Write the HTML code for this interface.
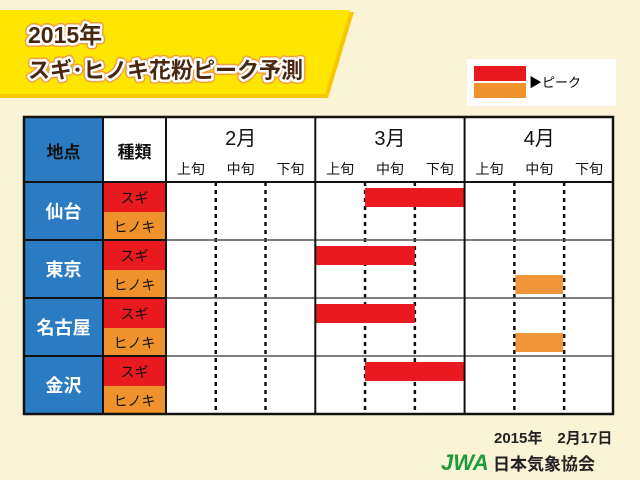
<!DOCTYPE html>
<html><head><meta charset="utf-8">
<style>
html,body{margin:0;padding:0;background:#fbf3d6;}
svg{display:block;font-family:"Liberation Sans","Noto Sans CJK JP",sans-serif;}
</style></head>
<body>
<svg id="chart" width="640" height="480" viewBox="0 0 640 480">
<rect width="640" height="480" fill="#fbf3d6"/>
<polygon points="0,12 354,12 328,98 0,98" fill="#f6c800"/>
<polygon points="0,10 350,10 325,94 0,94" fill="#ffe600"/>
<g font-weight="bold" fill="none" stroke="#f0a040" stroke-width="8" stroke-linejoin="round">
<text x="28" y="43" font-size="23">2015年</text>
<text x="28" y="78" font-size="22">スギ･ヒノキ花粉ピーク予測</text>
</g>
<g font-weight="bold" fill="#4a2810" stroke="#fff" stroke-width="5" paint-order="stroke" stroke-linejoin="round">
<text x="28" y="43" font-size="23">2015年</text>
<text x="28" y="78" font-size="22">スギ･ヒノキ花粉ピーク予測</text>
</g>
<g>
<rect x="467" y="59" width="149" height="47" fill="#fff"/>
<rect x="474" y="66" width="52" height="15" fill="#e8191f"/>
<rect x="474" y="83" width="52" height="15" fill="#f0922b"/>
<text x="529" y="87" font-size="13" fill="#000">▶ピーク</text>
</g>
<g id="table"></g>
<g font-weight="bold" fill="#222">
<text x="494" y="443" font-size="15">2015年　2月17日</text>
<text x="493" y="470" font-size="17">日本気象協会</text>
<text x="441" y="470" font-size="22" font-style="italic" fill="#1d9b3a" font-weight="bold">JWA</text>
</g>
</svg>
<script>
const cities=['仙台','東京','名古屋','金沢'];
const months=['2月','3月','4月'];
const dekads=['上旬','中旬','下旬'];
const sugiStart=[4,3,3,4];
const sugiEnd=[6,5,5,6];
const hinokiStart=[null,7,7,null];
const hinokiEnd=[null,8,8,null];

const NS='http://www.w3.org/2000/svg';
const g=document.getElementById('table');
function el(t,a,p){const e=document.createElementNS(NS,t);for(const k in a)e.setAttribute(k,a[k]);(p||g).appendChild(e);return e;}
const L=24,C1=103,C2=166,X0=166,DW=149.3/3,TOP=117,HB=182,RH=58,BOT=414;
const xd=i=>X0+i*DW;
const yr=c=>HB+c*RH;

let r=el('rect',{x:L,y:TOP,width:C1-L,height:BOT-TOP,fill:'#2a7bc1'});


el('rect',{x:C1,y:TOP,width:613-C1,height:HB-TOP,fill:'#fff'});
el('rect',{x:X0,y:HB,width:613-X0,height:BOT-HB,fill:'#fff'});
let t=el('text',{x:(L+C1)/2,y:158,'font-size':17,'font-weight':'bold','text-anchor':'middle',fill:'#111'});t.textContent='地点';


t=el('text',{x:(C1+C2)/2,y:158,'font-size':17,'font-weight':'bold','text-anchor':'middle',fill:'#111'});t.textContent='種類';


months.forEach((m,i)=>{
  const x=xd(i*3+1.5);
  const mt=el('text',{x:x,y:145,'font-size':20,'text-anchor':'middle',fill:'#111'});mt.textContent=m;
  
  
  dekads.forEach((d,j)=>{
    const dt=el('text',{x:xd(i*3+j+0.5),y:174,'font-size':14,'text-anchor':'middle',fill:'#111'});dt.textContent=d;
    
    
  });
});
for(let k=1;k<9;k++){
  if(k%3===0)continue;
  el('line',{x1:xd(k),x2:xd(k),y1:HB,y2:BOT,stroke:'#111','stroke-width':2.5,'stroke-dasharray':'4,4'});
}
cities.forEach((c,i)=>{
  const y=yr(i);
  const s=el('rect',{x:C1,y:y,width:C2-C1,height:30,fill:'#e8191f'});
  
  
  const h=el('rect',{x:C1,y:y+30,width:C2-C1,height:RH-30,fill:'#f0922b'});
  
  
  let tx=el('text',{x:(C1+C2)/2,y:y+21,'font-size':14,'text-anchor':'middle',fill:'#111'});tx.textContent='スギ';
  tx=el('text',{x:(C1+C2)/2,y:y+50,'font-size':14,'text-anchor':'middle',fill:'#111'});tx.textContent='ヒノキ';
  const ct=el('text',{x:(L+C1)/2,y:y+36,'font-size':18,'font-weight':'bold','text-anchor':'middle',fill:'#fff'});ct.textContent=c;
  
  
  if(i>0){el('line',{x1:L,x2:C2,y1:y,y2:y,stroke:'#111','stroke-width':2});el('line',{x1:X0,x2:613,y1:y,y2:y,stroke:'#555','stroke-width':1.5});}
  if(sugiStart[i]!=null){
    const b=el('rect',{x:xd(sugiStart[i]),y:y+6,width:xd(sugiEnd[i])-xd(sugiStart[i]),height:19,fill:'#e8191f'});
    
    
  }
  if(hinokiStart[i]!=null){
    const b=el('rect',{x:xd(hinokiStart[i])+1,y:y+35,width:xd(hinokiEnd[i])-xd(hinokiStart[i])-2,height:19,fill:'#f0963a'});
    
    
  }
});
[C1,C2,xd(3),xd(6)].forEach(x=>el('line',{x1:x,x2:x,y1:TOP,y2:BOT,stroke:'#111','stroke-width':2}));
el('line',{x1:L,x2:613,y1:HB,y2:HB,stroke:'#111','stroke-width':2});
el('rect',{x:L,y:TOP,width:613-L,height:BOT-TOP,fill:'none',stroke:'#111','stroke-width':2.5});
</script>
</body></html>
